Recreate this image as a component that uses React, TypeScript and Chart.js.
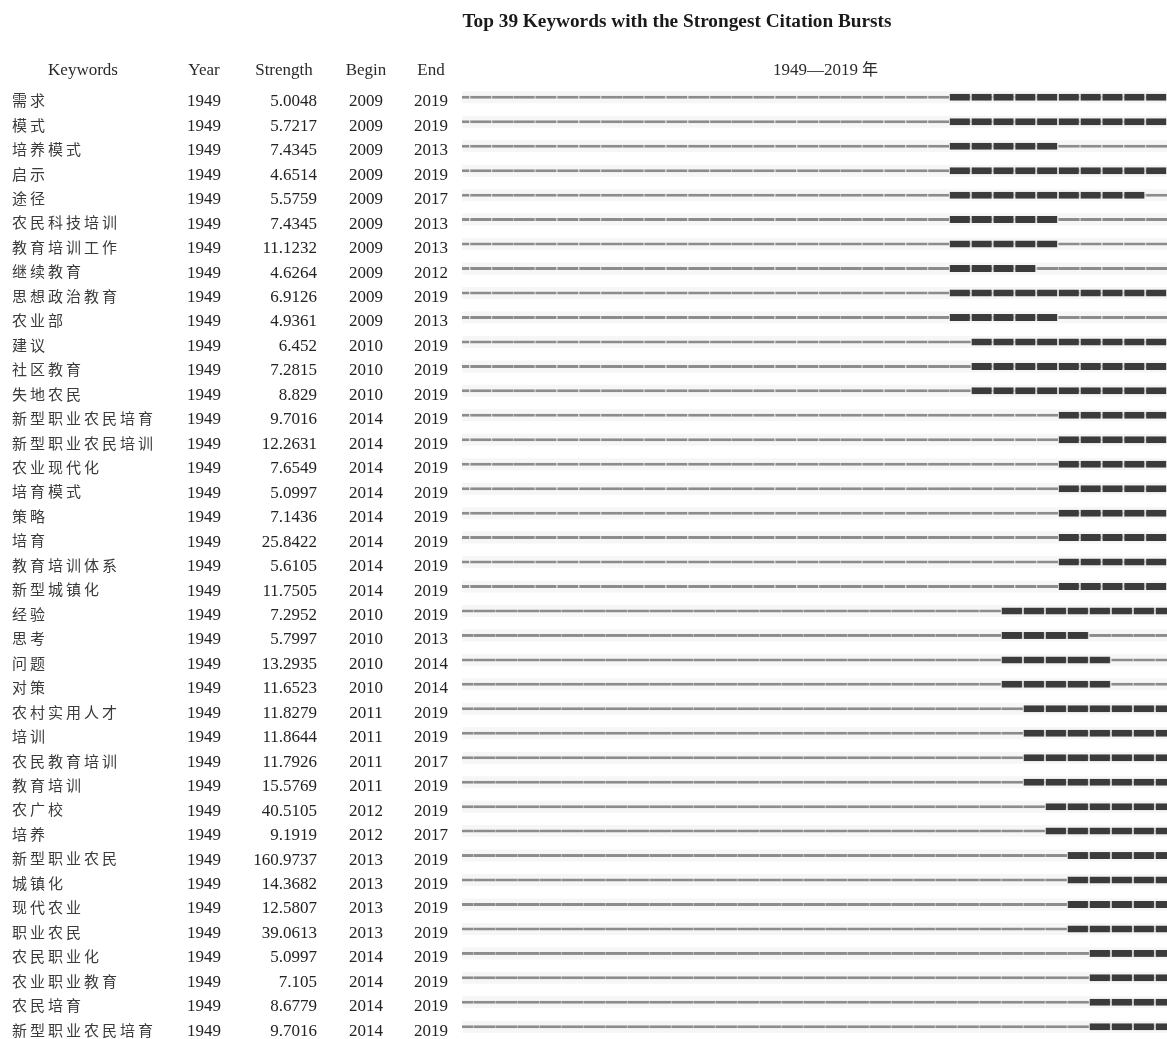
import React, { useEffect, useRef } from "react";
import { Chart, registerables } from "chart.js";

Chart.register(...registerables);

const titleText = "Top 39 Keywords with the Strongest Citation Bursts";
const headerLabels = ["Keywords", "Year", "Strength", "Begin", "End"];
const periodLabel = "1949\u20142019\u5e74";

const keywords = [
  "需求", "模式", "培养模式", "启示", "途径", "农民科技培训", "教育培训工作", "继续教育",
  "思想政治教育", "农业部", "建议", "社区教育", "失地农民", "新型职业农民培育",
  "新型职业农民培训", "农业现代化", "培育模式", "策略", "培育", "教育培训体系", "新型城镇化",
  "经验", "思考", "问题", "对策", "农村实用人才", "培训", "农民教育培训", "教育培训",
  "农广校", "培养", "新型职业农民", "城镇化", "现代农业", "职业农民", "农民职业化",
  "农业职业教育", "农民培育", "新型职业农民培育",
];
const startYears = [
  1949, 1949, 1949, 1949, 1949, 1949, 1949, 1949, 1949, 1949, 1949, 1949, 1949,
  1949, 1949, 1949, 1949, 1949, 1949, 1949, 1949, 1949, 1949, 1949, 1949, 1949,
  1949, 1949, 1949, 1949, 1949, 1949, 1949, 1949, 1949, 1949, 1949, 1949, 1949,
];
const strengths = [
  "5.0048", "5.7217", "7.4345", "4.6514", "5.5759", "7.4345", "11.1232", "4.6264",
  "6.9126", "4.9361", "6.452", "7.2815", "8.829", "9.7016", "12.2631", "7.6549",
  "5.0997", "7.1436", "25.8422", "5.6105", "11.7505", "7.2952", "5.7997", "13.2935",
  "11.6523", "11.8279", "11.8644", "11.7926", "15.5769", "40.5105", "9.1919",
  "160.9737", "14.3682", "12.5807", "39.0613", "5.0997", "7.105", "8.6779", "9.7016",
];
const begins = [
  2009, 2009, 2009, 2009, 2009, 2009, 2009, 2009, 2009, 2009, 2010, 2010, 2010,
  2014, 2014, 2014, 2014, 2014, 2014, 2014, 2014, 2010, 2010, 2010, 2010, 2011,
  2011, 2011, 2011, 2012, 2012, 2013, 2013, 2013, 2013, 2014, 2014, 2014, 2014,
];
const ends = [
  2019, 2019, 2013, 2019, 2017, 2013, 2013, 2012, 2019, 2013, 2019, 2019, 2019,
  2019, 2019, 2019, 2019, 2019, 2019, 2019, 2019, 2019, 2013, 2014, 2014, 2019,
  2019, 2017, 2019, 2019, 2017, 2019, 2019, 2019, 2019, 2019, 2019, 2019, 2019,
];
// The figure is stitched from two timeline panels: rows 1-21 and rows 22-39
const panelOfRow = keywords.map((_, i) => (i < 21 ? 0 : 1));
const panelWindows = [
  [1986.66, 2019.0],
  [1985.5, 2017.55],
];

const SERIF = '"Liberation Serif", "Times New Roman", serif';
const CJK = '"Noto Sans CJK SC", sans-serif';

function buildSegments(panel: number, kind: "burst" | "span" | "band") {
  const out: { x: number[]; y: number }[] = [];
  const [lo, hi] = panelWindows[panel];
  keywords.forEach((_, i) => {
    if (panelOfRow[i] !== panel) return;
    if (kind === "burst") {
      for (let yr = begins[i]; yr <= ends[i]; yr++) out.push({ x: [yr, yr + 1], y: i });
    } else if (kind === "span") {
      for (let yr = Math.floor(lo); yr < Math.ceil(hi); yr++) out.push({ x: [yr, yr + 1], y: i });
    } else {
      out.push({ x: [lo, hi], y: i });
    }
  });
  return out;
}

const tablePlugin = {
  id: "burstTable",
  afterDraw(chart: any) {
    const ctx = chart.ctx as CanvasRenderingContext2D;
    const yScale = chart.scales.y;
    ctx.save();
    // title
    ctx.textBaseline = "middle";
    ctx.fillStyle = "#1a1a1a";
    ctx.font = `bold 19.3px ${SERIF}`;
    ctx.textAlign = "center";
    ctx.fillText(titleText, 677, 22);
    // headers
    ctx.textBaseline = "alphabetic";
    ctx.font = `17px ${SERIF}`;
    ctx.fillStyle = "#2a2a2a";
    const headerX = [83, 204, 284, 366, 431];
    headerLabels.forEach((h, k) => ctx.fillText(h, headerX[k], 75));
    const chars = Array.from(periodLabel);
    const yearsPart = chars.slice(0, -1).join("");
    const unit = chars[chars.length - 1];
    ctx.textAlign = "left";
    ctx.fillText(yearsPart, 773, 75);
    const w = ctx.measureText(yearsPart).width;
    ctx.font = `16px ${CJK}`;
    ctx.fillText(unit, 773 + w + 4, 75);
    // rows
    keywords.forEach((kw, i) => {
      const line = yScale.getPixelForValue(i);
      ctx.font = `15px ${CJK}`;
      ctx.fillStyle = "#3a3a3a";
      ctx.textAlign = "left";
      Array.from(kw).forEach((ch, c) => ctx.fillText(ch, 12 + c * 18, line + 8.8));
      const base = line + 9;
      ctx.font = `17px ${SERIF}`;
      ctx.fillStyle = "#222";
      ctx.textAlign = "center";
      ctx.fillText(String(startYears[i]), 204, base);
      ctx.textAlign = "right";
      ctx.fillText(strengths[i], 317, base);
      ctx.textAlign = "center";
      ctx.fillText(String(begins[i]), 366, base);
      ctx.fillText(String(ends[i]), 431, base);
    });
    ctx.restore();
  },
};

export default function App() {
  const ref = useRef<HTMLCanvasElement | null>(null);
  useEffect(() => {
    document.body.style.margin = "0";
    const canvas = ref.current;
    if (!canvas) return;
    const common = { borderSkipped: false, grouped: false, clip: 0 };
    const bandStyle = {
      ...common,
      backgroundColor: "#f6f6f6",
      borderWidth: 0,
      maxBarThickness: 12,
      order: 3,
    };
    const grayStyle = {
      ...common,
      backgroundColor: "#8c8c8c",
      borderColor: "#b9b9b9",
      borderWidth: { left: 1, right: 0, top: 0, bottom: 0 },
      maxBarThickness: 3,
      order: 2,
    };
    const darkStyle = {
      ...common,
      backgroundColor: "#3b3b3b",
      borderColor: "#cfcfcf",
      borderWidth: { left: 1, right: 1, top: 0, bottom: 0 },
      maxBarThickness: 7,
      order: 1,
    };
    const chart = new Chart(canvas, {
      type: "bar",
      data: {
        datasets: [
          { ...darkStyle, label: "burst-top", data: buildSegments(0, "burst"), xAxisID: "xTop" },
          { ...darkStyle, label: "burst-bottom", data: buildSegments(1, "burst"), xAxisID: "xBottom" },
          { ...grayStyle, label: "span-top", data: buildSegments(0, "span"), xAxisID: "xTop" },
          { ...grayStyle, label: "span-bottom", data: buildSegments(1, "span"), xAxisID: "xBottom" },
          { ...bandStyle, label: "band-top", data: buildSegments(0, "band"), xAxisID: "xTop" },
          { ...bandStyle, label: "band-bottom", data: buildSegments(1, "band"), xAxisID: "xBottom" },
        ] as any,
      },
      options: {
        indexAxis: "y",
        animation: false,
        responsive: false,
        devicePixelRatio: 1,
        layout: { padding: { left: 462, right: 0, top: 85.1, bottom: 0 } },
        plugins: { legend: { display: false }, tooltip: { enabled: false }, title: { display: false } },
        scales: {
          y: { type: "linear", min: -0.5, max: 38.5, reverse: true, display: false, offset: false, grace: 0 },
          xTop: { type: "linear", position: "bottom", min: panelWindows[0][0], max: panelWindows[0][1], display: false, offset: false },
          xBottom: { type: "linear", position: "bottom", min: panelWindows[1][0], max: panelWindows[1][1], display: false, offset: false },
        },
      } as any,
      plugins: [tablePlugin],
    });
    return () => chart.destroy();
  }, []);
  return (
    <div style={{ width: 1167, height: 1039, background: "#fff" }}>
      <canvas ref={ref} width={1167} height={1039} style={{ display: "block" }} />
    </div>
  );
}
